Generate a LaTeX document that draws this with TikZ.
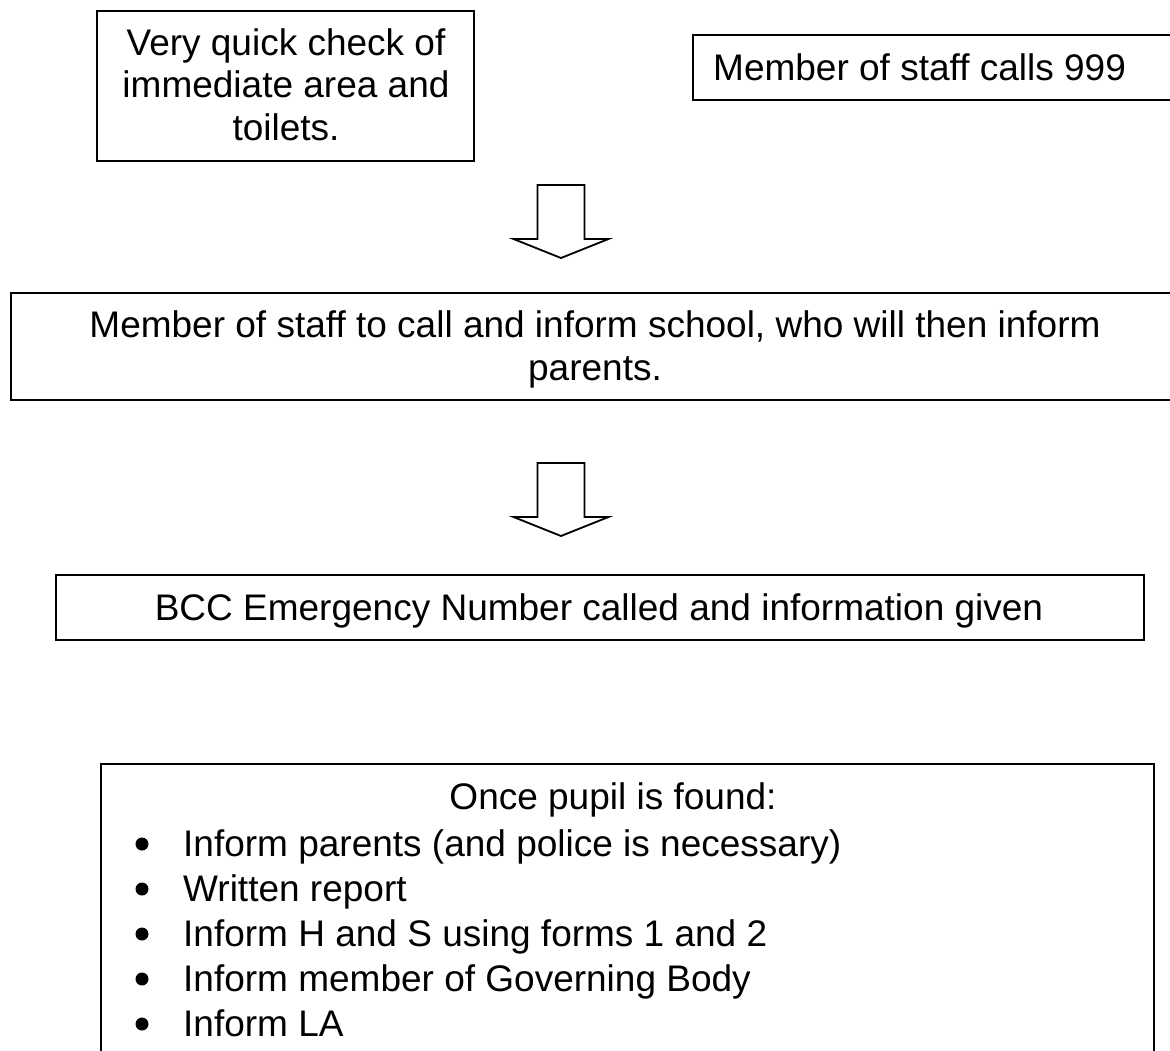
\documentclass[tikz,border=0pt]{standalone}
\usepackage{fontspec}
\setmainfont{Liberation Sans}
\begin{document}
\begin{tikzpicture}[x=1pt,y=-1pt,
  box/.style={draw, line width=1.8pt, inner sep=0pt, anchor=north west},
  txt/.style={anchor=base, inner sep=0pt, font=\fontsize{37}{43}\selectfont},
  itemtxt/.style={txt, anchor=base west},
  dot/.style={circle, fill, inner sep=0pt, minimum size=13pt},
  blockarrow/.style={draw, line width=1.8pt, line join=miter, fill=white},
  downarrow/.pic={\draw[blockarrow] (-23.5,-73) -- (23.5,-73) -- (23.5,-19)
     -- (47.5,-19) -- (0,0) -- (-47.5,-19) -- (-23.5,-19) -- cycle;}]
\clip (0,0) rectangle (1170,1050);
\fill[white] (0,0) rectangle (1170,1050);

% first row: local search and emergency call
\node[box, minimum width=377pt, minimum height=150pt] (check) at (96,10) {};
\node[txt] (check1) at (286,55) {Very quick check of};
\node[txt] (check2) at (286,97) {immediate area and};
\node[txt] (check3) at (286,140) {toilets.};

\node[box, minimum width=500pt, minimum height=65pt] (call) at (692,34) {};
\node[txt, anchor=base west] (call1) at (713,80) {Member of staff calls 999};

% step down
\coordinate (tip1) at (561,258);
\pic at (tip1) {downarrow};

% inform school
\node[box, minimum width=1180pt, minimum height=107pt] (school) at (10,292) {};
\node[txt] (school1) at (595,337) {Member of staff to call and inform school, who will then inform};
\node[txt] (school2) at (595,380) {parents.};

% step down
\coordinate (tip2) at (561,536);
\pic at (tip2) {downarrow};

% BCC emergency number
\node[box, minimum width=1088pt, minimum height=65pt] (bcc) at (55,574) {};
\node[txt] (bcc1) at (599,620) {BCC Emergency Number called and information given};

% follow-up actions
\node[box, minimum width=1053pt, minimum height=330pt] (found) at (100,763) {};
\node[txt] (found0) at (613,809) {Once pupil is found:};
\foreach \i/\t [count=\n] in {856/{Inform parents (and police is necessary)},
    901/{Written report},
    946/{Inform H and S using forms 1 and 2},
    991/{Inform member of Governing Body},
    1036/{Inform LA}} {
  \node[dot] (b\n) at (142,\i-12) {};
  \node[itemtxt] (item\n) at (183,\i) {\t};
}
\end{tikzpicture}
\end{document}
